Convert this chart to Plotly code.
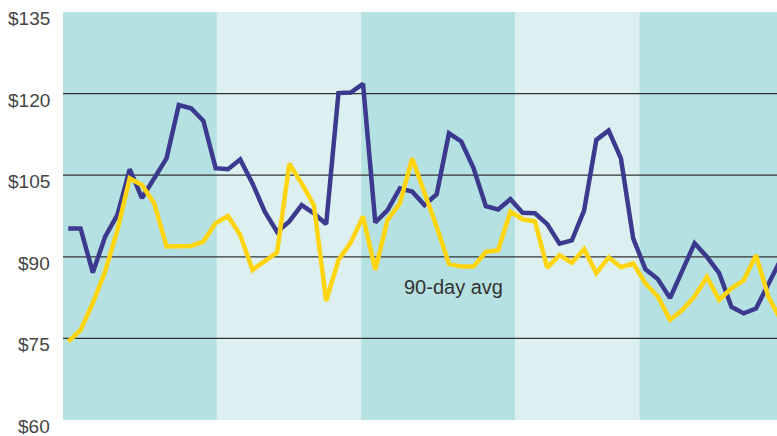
import plotly.graph_objects as go

# Daily price and its 90-day average, one value per period
price = [95.2, 95.2, 87.1, 93.7, 97.7, 106.1, 100.8, 104.4, 108.1, 117.9,
         117.3, 115.0, 106.3, 106.1, 107.9, 103.5, 98.3, 94.6, 96.5, 99.5,
         98.0, 96.0, 120.1, 120.2, 121.8, 96.3, 98.6, 102.6, 102.0, 99.5,
         101.5, 112.7, 111.2, 106.3, 99.3, 98.7, 100.6, 98.1, 98.0, 96.0,
         92.4, 93.0, 98.5, 111.5, 113.2, 108.1, 93.4, 87.7, 85.9, 82.4,
         87.6, 92.5, 90.0, 87.0, 80.8, 79.6, 80.5, 85.1, 89.4]
avg90 = [74.4, 76.5, 81.5, 87.3, 94.9, 104.4, 103.2, 99.8, 91.9, 91.9,
         92.0, 92.8, 96.2, 97.5, 94.0, 87.6, 89.2, 90.8, 107.1, 103.5,
         99.5, 81.9, 89.4, 92.6, 97.4, 87.6, 96.8, 99.8, 108.1, 102.0,
         95.5, 88.7, 88.2, 88.2, 90.9, 91.2, 98.3, 96.9, 96.5, 88.0,
         90.3, 88.9, 91.4, 87.0, 89.9, 88.1, 88.8, 85.1, 82.7, 78.4,
         80.2, 82.7, 86.3, 82.1, 84.2, 85.7, 90.3, 82.7, 78.5]
days = list(range(len(price)))

# Shaded period bands (start, end) along the day axis
band_edges = [-0.43, 12.1, 23.85, 36.4, 46.5, 57.71]
band_colors = ["#b6e1e2", "#dcf0f1", "#b6e1e2", "#dcf0f1", "#b6e1e2"]

y_ticks = [60, 75, 90, 105, 120, 135]
y_tick_text = ["$60", "$75", "$90", "$105", "$120", "$135"]
grid_vals = [75, 90, 105, 120]

label_text = "90-day avg"
label_pos = (31.4, 84.4)

FONT = "Liberation Sans, Arial, sans-serif"

fig = go.Figure()

fig.add_trace(go.Scatter(x=days, y=price, mode="lines",
                         line=dict(color="#3b3a8e", width=4.5),
                         hoverinfo="skip", showlegend=False))
fig.add_trace(go.Scatter(x=days, y=avg90, mode="lines",
                         line=dict(color="#ffd50f", width=4.5),
                         hoverinfo="skip", showlegend=False))

for x0, x1, c in zip(band_edges[:-1], band_edges[1:], band_colors):
    fig.add_shape(type="rect", xref="x", yref="paper", x0=x0, x1=x1, y0=0, y1=1,
                  fillcolor=c, line=dict(width=0), layer="below")

for g in grid_vals:
    fig.add_shape(type="line", xref="paper", yref="y", x0=0, x1=1, y0=g, y1=g,
                  line=dict(color="#333333", width=1.3), layer="below")

# Price labels sit just under their grid value, right-aligned left of the plot
for v, t in zip(y_ticks, y_tick_text):
    fig.add_annotation(xref="paper", yref="y", x=0, y=v, text=t, showarrow=False,
                       xanchor="right", yanchor="top", xshift=-11, yshift=6,
                       font=dict(family=FONT, size=19, color="#454545"))

fig.add_annotation(x=label_pos[0], y=label_pos[1], text=label_text, showarrow=False,
                   font=dict(family=FONT, size=20, color="#333333"),
                   xanchor="center", yanchor="middle")

fig.update_layout(
    width=777, height=436,
    margin=dict(l=63, r=0, t=12, b=16),
    paper_bgcolor="white", plot_bgcolor="white",
    xaxis=dict(range=[band_edges[0], band_edges[-1]], visible=False),
    yaxis=dict(range=[60, 135], visible=False),
)

fig.write_html("out.html")
